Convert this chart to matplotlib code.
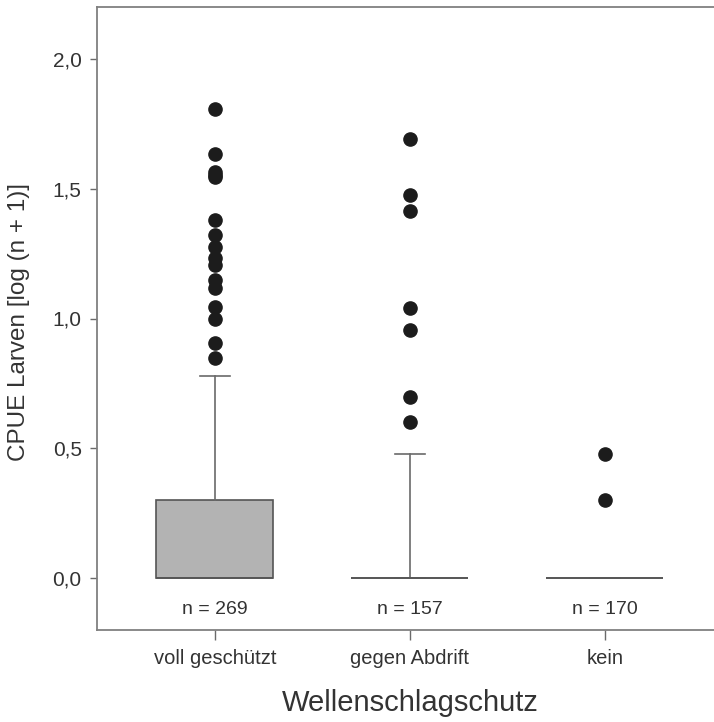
import matplotlib
matplotlib.use('Agg')
import matplotlib.pyplot as plt

plt.rcParams['font.family'] = ['Liberation Sans', 'DejaVu Sans']

# Data (log(n+1) CPUE of larvae)
categories = ['voll geschützt', 'gegen Abdrift', 'kein']
n_labels = ['n = 269', 'n = 157', 'n = 170']
q1 = [0.0, 0.0, 0.0]
median = [0.0, 0.0, 0.0]
q3 = [0.301, 0.0, 0.0]
whisker_low = [0.0, 0.0, 0.0]
whisker_high = [0.780, 0.477, 0.0]
outliers_voll = [1.807, 1.633, 1.566, 1.554, 1.546, 1.380, 1.322, 1.277, 1.232,
                 1.206, 1.148, 1.116, 1.045, 1.000, 0.904, 0.847]
outliers_abdrift = [1.690, 1.477, 1.414, 1.041, 0.954, 0.699, 0.602]
outliers_kein = [0.477, 0.301]
yticks = [0.0, 0.5, 1.0, 1.5, 2.0]
ytick_labels = ['0,0', '0,5', '1,0', '1,5', '2,0']

W, H = 714, 722
fig = plt.figure(figsize=(W / 100, H / 100), dpi=100)
ax = fig.add_axes([97 / W, (H - 630) / H, 625 / W, 623 / H])

fliers = [outliers_voll, outliers_abdrift, outliers_kein]
stats = []
for i in range(3):
    stats.append(dict(q1=q1[i], med=median[i], q3=q3[i],
                      whislo=whisker_low[i], whishi=whisker_high[i],
                      fliers=fliers[i]))

line_col = '#6a6a6a'
ax.bxp(stats, positions=[1, 2, 3], widths=0.6, capwidths=0.15,
       patch_artist=True, showfliers=True,
       boxprops=dict(facecolor='#b3b3b3', edgecolor='#555555', linewidth=1.2),
       medianprops=dict(color='#555555', linewidth=1.2),
       whiskerprops=dict(color=line_col, linewidth=1.2),
       capprops=dict(color=line_col, linewidth=1.2),
       flierprops=dict(marker='o', markersize=9.5, markerfacecolor='#1c1c1c',
                       markeredgecolor='#1c1c1c'))

for i, lab in enumerate(n_labels):
    ax.text(i + 1, -0.12, lab, ha='center', va='center', fontsize=14,
            color='#333333')

ax.set_xlim(0.395, 3.6)
ax.set_ylim(-0.2, 2.2)
ax.set_yticks(yticks)
ax.set_yticklabels(ytick_labels)
ax.set_xticks([1, 2, 3])
ax.set_xticklabels(categories)

ax.tick_params(axis='y', direction='out', length=5, width=1, color=line_col,
               labelsize=15, labelcolor='#333333', pad=6)
ax.tick_params(axis='x', direction='out', length=7, width=1, color=line_col,
               labelsize=14.5, labelcolor='#333333', pad=7)

for side in ['left', 'bottom', 'top']:
    ax.spines[side].set_color('#808080')
    ax.spines[side].set_linewidth(1.3)
ax.spines['right'].set_visible(False)

fig.text(19 / W, 1 - 322 / H, 'CPUE Larven [log (n + 1)]', rotation=90,
         ha='center', va='center', fontsize=17.5, color='#333333')
fig.text(410 / W, 1 - 703 / H, 'Wellenschlagschutz', ha='center', va='center',
         fontsize=21, color='#333333')

fig.savefig('out.png', dpi=100, facecolor='white')
